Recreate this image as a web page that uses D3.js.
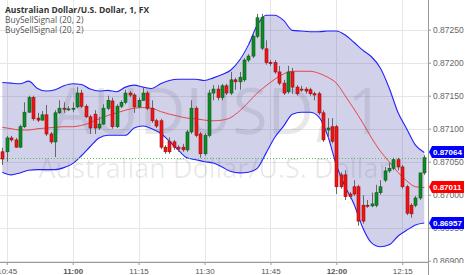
<!DOCTYPE html>
<html>
<head>
<meta charset="utf-8">
<script src="https://cdn.jsdelivr.net/npm/d3@7"></script>
<style>
  body { margin: 0; background: #fff; }
  svg { display: block; }
</style>
</head>
<body>
<svg id="chart" width="466" height="275"></svg>
<script>
// DATA: AUDUSD 1 minute bars, first bar at 10:44
const startTime = new Date(2015, 0, 1, 10, 44);

const opens = [
  0.87065, 0.87065, 0.87086, 0.87083, 0.87072, 0.87103, 0.87125, 0.87147, 0.87116, 0.87113,
  0.87121, 0.87092, 0.87080, 0.87124, 0.87131, 0.87130, 0.87130, 0.87133, 0.87154, 0.87134,
  0.87118, 0.87122, 0.87101, 0.87107, 0.87131, 0.87142, 0.87103, 0.87134, 0.87140, 0.87154,
  0.87151, 0.87133, 0.87143, 0.87154, 0.87131, 0.87112, 0.87112, 0.87072, 0.87081, 0.87080,
  0.87072, 0.87072, 0.87068, 0.87095, 0.87131, 0.87092, 0.87062, 0.87090, 0.87154, 0.87160,
  0.87147, 0.87165, 0.87154, 0.87174, 0.87171, 0.87174, 0.87204, 0.87210, 0.87240, 0.87222,
  0.87221, 0.87200, 0.87200, 0.87186, 0.87169, 0.87156, 0.87186, 0.87163, 0.87160, 0.87160,
  0.87159, 0.87153, 0.87153, 0.87124, 0.87098, 0.87103, 0.87103, 0.87030, 0.87030, 0.87001,
  0.87012, 0.87012, 0.86984, 0.86984, 0.86983, 0.86984, 0.87003, 0.87022, 0.87036, 0.87040,
  0.87053, 0.87042, 0.87012, 0.86984, 0.86984, 0.86995, 0.87033
];
const highs = [
  0.87071, 0.87089, 0.87089, 0.87086, 0.87106, 0.87140, 0.87150, 0.87150, 0.87124, 0.87127,
  0.87136, 0.87095, 0.87128, 0.87143, 0.87140, 0.87134, 0.87140, 0.87163, 0.87159, 0.87137,
  0.87121, 0.87128, 0.87118, 0.87137, 0.87150, 0.87147, 0.87137, 0.87143, 0.87159, 0.87157,
  0.87154, 0.87147, 0.87163, 0.87157, 0.87143, 0.87115, 0.87115, 0.87075, 0.87087, 0.87083,
  0.87075, 0.87077, 0.87098, 0.87143, 0.87134, 0.87095, 0.87093, 0.87159, 0.87166, 0.87166,
  0.87168, 0.87168, 0.87186, 0.87177, 0.87186, 0.87207, 0.87213, 0.87245, 0.87274, 0.87274,
  0.87234, 0.87204, 0.87204, 0.87195, 0.87174, 0.87195, 0.87192, 0.87166, 0.87165, 0.87163,
  0.87162, 0.87156, 0.87156, 0.87128, 0.87116, 0.87116, 0.87106, 0.87034, 0.87037, 0.87004,
  0.87022, 0.87015, 0.86999, 0.86992, 0.87003, 0.87015, 0.87022, 0.87042, 0.87048, 0.87056,
  0.87056, 0.87045, 0.87015, 0.86987, 0.86998, 0.87033, 0.87060
];
const lows = [
  0.87045, 0.87050, 0.87080, 0.87071, 0.87071, 0.87101, 0.87124, 0.87112, 0.87110, 0.87112,
  0.87089, 0.87077, 0.87057, 0.87122, 0.87124, 0.87127, 0.87125, 0.87131, 0.87131, 0.87116,
  0.87092, 0.87092, 0.87098, 0.87106, 0.87128, 0.87100, 0.87101, 0.87131, 0.87137, 0.87148,
  0.87124, 0.87131, 0.87142, 0.87128, 0.87109, 0.87101, 0.87069, 0.87062, 0.87062, 0.87068,
  0.87065, 0.87065, 0.87065, 0.87092, 0.87087, 0.87056, 0.87059, 0.87087, 0.87143, 0.87143,
  0.87143, 0.87151, 0.87151, 0.87159, 0.87159, 0.87171, 0.87201, 0.87207, 0.87237, 0.87219,
  0.87197, 0.87195, 0.87183, 0.87166, 0.87151, 0.87153, 0.87153, 0.87150, 0.87156, 0.87153,
  0.87150, 0.87143, 0.87121, 0.87080, 0.87086, 0.87078, 0.87001, 0.87009, 0.86992, 0.86994,
  0.86998, 0.86953, 0.86956, 0.86980, 0.86981, 0.86981, 0.87000, 0.87019, 0.87033, 0.87037,
  0.87037, 0.87009, 0.86969, 0.86965, 0.86981, 0.86992, 0.87030
];
const closes = [
  0.87054, 0.87086, 0.87083, 0.87072, 0.87103, 0.87125, 0.87147, 0.87115, 0.87113, 0.87121,
  0.87092, 0.87080, 0.87124, 0.87131, 0.87130, 0.87130, 0.87131, 0.87154, 0.87134, 0.87118,
  0.87101, 0.87101, 0.87107, 0.87131, 0.87143, 0.87103, 0.87134, 0.87140, 0.87154, 0.87151,
  0.87133, 0.87143, 0.87154, 0.87131, 0.87112, 0.87104, 0.87072, 0.87065, 0.87065, 0.87072,
  0.87069, 0.87068, 0.87095, 0.87131, 0.87090, 0.87062, 0.87090, 0.87154, 0.87160, 0.87147,
  0.87165, 0.87154, 0.87174, 0.87171, 0.87178, 0.87204, 0.87210, 0.87240, 0.87268, 0.87269,
  0.87200, 0.87199, 0.87186, 0.87169, 0.87154, 0.87186, 0.87163, 0.87153, 0.87159, 0.87157,
  0.87153, 0.87151, 0.87124, 0.87083, 0.87101, 0.87081, 0.87012, 0.87012, 0.86997, 0.86997,
  0.87001, 0.86960, 0.86960, 0.86983, 0.86986, 0.87003, 0.87012, 0.87036, 0.87040, 0.87053,
  0.87042, 0.87012, 0.86972, 0.86971, 0.86995, 0.87033, 0.87056
];

// bollinger band (20, 2) read every 2 bars
const bandStep = 2;
const upperBand = [
  0.87170, 0.87169, 0.87168, 0.87172, 0.87161, 0.87157, 0.87159, 0.87165, 0.87168, 0.87167,
  0.87160, 0.87157, 0.87158, 0.87156, 0.87163, 0.87166, 0.87163, 0.87161, 0.87168, 0.87173,
  0.87175, 0.87175, 0.87175, 0.87173, 0.87177, 0.87182, 0.87189, 0.87204, 0.87227, 0.87257,
  0.87272, 0.87272, 0.87264, 0.87249, 0.87248, 0.87247, 0.87247, 0.87248, 0.87248, 0.87242,
  0.87231, 0.87219, 0.87209, 0.87192, 0.87162, 0.87125, 0.87100, 0.87075, 0.87064
];
const middleBand = [
  0.87102, 0.87100, 0.87098, 0.87098, 0.87100, 0.87101, 0.87102, 0.87103, 0.87103, 0.87105,
  0.87109, 0.87115, 0.87120, 0.87124, 0.87128, 0.87131, 0.87132, 0.87131, 0.87126, 0.87122,
  0.87119, 0.87116, 0.87115, 0.87113, 0.87112, 0.87113, 0.87117, 0.87127, 0.87140, 0.87154,
  0.87165, 0.87175, 0.87183, 0.87187, 0.87187, 0.87187, 0.87184, 0.87178, 0.87169, 0.87150,
  0.87130, 0.87109, 0.87086, 0.87066, 0.87050, 0.87034, 0.87021, 0.87012, 0.87011
];
const lowerBand = [
  0.87034, 0.87030, 0.87033, 0.87037, 0.87038, 0.87038, 0.87038, 0.87041, 0.87047, 0.87059,
  0.87073, 0.87086, 0.87090, 0.87090, 0.87090, 0.87101, 0.87104, 0.87100, 0.87093, 0.87081,
  0.87068, 0.87056, 0.87053, 0.87050, 0.87048, 0.87042, 0.87035, 0.87033, 0.87034, 0.87040,
  0.87063, 0.87087, 0.87104, 0.87122, 0.87125, 0.87125, 0.87118, 0.87090, 0.87045, 0.87012,
  0.86986, 0.86950, 0.86927, 0.86921, 0.86924, 0.86937, 0.86946, 0.86954, 0.86957
];

const priceTicks = [0.869, 0.8695, 0.870, 0.8705, 0.871, 0.8715, 0.872, 0.8725];
const timeDomain = [new Date(2015, 0, 1, 10, 43, 28), new Date(2015, 0, 1, 12, 20, 51)];
const priceDomain = [0.86898, 0.87295];

const title = "Australian Dollar/U.S. Dollar, 1, FX";
const studies = ["BuySellSignal (20, 2)", "BuySellSignal (20, 2)"];
const watermark = ["AUDUSD, 1", "Australian Dollar/U.S. Dollar"];

const bars = opens.map((o, i) => ({
  time: d3.timeMinute.offset(startTime, i),
  open: o, high: highs[i], low: lows[i], close: closes[i]
}));
const bands = upperBand.map((u, i) => ({
  time: d3.timeMinute.offset(startTime, i * bandStep),
  upper: u, middle: middleBand[i], lower: lowerBand[i]
}));

// LAYOUT
const plotW = 428, plotH = 262;
const svg = d3.select("svg#chart");

// SCALES
const xScale = d3.scaleTime().domain(timeDomain).range([0, plotW]);
const yScale = d3.scaleLinear().domain(priceDomain).range([plotH, 0]);

svg.append("defs").append("clipPath").attr("id", "plot-clip")
  .append("rect").attr("width", plotW).attr("height", plotH);
svg.select("defs").append("clipPath").attr("id", "axis-clip")
  .append("rect").attr("x", plotW).attr("width", 466 - plotW).attr("height", plotH + 1);

const plot = svg.append("g").attr("clip-path", "url(#plot-clip)");

// GRID
const timeTicks = xScale.ticks(d3.timeMinute.every(15));
plot.append("g").selectAll("line").data(timeTicks).join("line")
  .attr("x1", d => Math.round(xScale(d)) + 0.5).attr("x2", d => Math.round(xScale(d)) + 0.5)
  .attr("y1", 0).attr("y2", plotH)
  .attr("stroke", "#e6e6e6");
plot.append("g").selectAll("line").data(priceTicks).join("line")
  .attr("x1", 0).attr("x2", plotW)
  .attr("y1", d => Math.round(yScale(d)) + 0.5).attr("y2", d => Math.round(yScale(d)) + 0.5)
  .attr("stroke", "#e6e6e6");

// WATERMARK
plot.append("text")
  .attr("x", plotW / 2 + 4).attr("y", 134)
  .attr("text-anchor", "middle")
  .style("font-family", "'Open Sans', sans-serif").style("font-size", "64px")
  .attr("fill", "#000").attr("fill-opacity", 0.09)
  .text(watermark[0]);
plot.append("text")
  .attr("x", plotW / 2).attr("y", 178)
  .attr("text-anchor", "middle")
  .style("font-family", "'Open Sans', sans-serif").style("font-size", "27px")
  .attr("fill", "#000").attr("fill-opacity", 0.09)
  .text(watermark[1]);

// BOLLINGER BAND
const area = d3.area()
  .x(d => xScale(d.time))
  .y0(d => yScale(d.lower))
  .y1(d => yScale(d.upper))
  .curve(d3.curveMonotoneX);
const bandLine = key => d3.line()
  .x(d => xScale(d.time))
  .y(d => yScale(d[key]))
  .curve(d3.curveMonotoneX);

plot.append("path").datum(bands).attr("d", area)
  .attr("fill", "rgb(70,70,170)").attr("fill-opacity", 0.25);
plot.append("path").datum(bands).attr("d", bandLine("upper"))
  .attr("fill", "none").attr("stroke", "#2121ff").attr("stroke-width", 1.1);
plot.append("path").datum(bands).attr("d", bandLine("lower"))
  .attr("fill", "none").attr("stroke", "#2121ff").attr("stroke-width", 1.1);
plot.append("path").datum(bands).attr("d", bandLine("middle"))
  .attr("fill", "none").attr("stroke", "#e53935").attr("stroke-width", 0.9);

// LAST PRICE LINE
const last = bars[bars.length - 1];
plot.append("line")
  .attr("x1", 0).attr("x2", plotW)
  .attr("y1", Math.round(yScale(last.close)) + 0.5).attr("y2", Math.round(yScale(last.close)) + 0.5)
  .attr("stroke", "#5cb85c").attr("stroke-dasharray", "1,2");

// CANDLES
const up = "#0f8a26", upEdge = "#0a5a18", down = "#f21414", downEdge = "#9a0c0c";
const candle = plot.append("g").selectAll("g").data(bars).join("g");
candle.append("line")
  .attr("x1", d => Math.round(xScale(d.time)) + 0.5).attr("x2", d => Math.round(xScale(d.time)) + 0.5)
  .attr("y1", d => yScale(d.high)).attr("y2", d => yScale(d.low))
  .attr("stroke", "#666");
candle.append("rect")
  .attr("x", d => Math.round(xScale(d.time)) - 1)
  .attr("width", 3)
  .attr("y", d => yScale(Math.max(d.open, d.close)))
  .attr("height", d => Math.max(1, yScale(Math.min(d.open, d.close)) - yScale(Math.max(d.open, d.close))))
  .attr("fill", d => d.close >= d.open ? up : down)
  .attr("stroke", d => d.close >= d.open ? upEdge : downEdge)
  .attr("stroke-width", 0.6);

// AXES
const xAxis = g => g.attr("transform", `translate(0,${plotH})`)
  .call(d3.axisBottom(xScale)
    .tickValues(timeTicks)
    .tickFormat(d3.timeFormat("%H:%M"))
    .tickSize(3).tickSizeOuter(0).tickPadding(3));
const yAxis = g => g.attr("transform", `translate(${plotW},0)`)
  .call(d3.axisRight(yScale)
    .tickValues(priceTicks)
    .tickFormat(d3.format(".5f"))
    .tickSize(3).tickSizeOuter(0).tickPadding(2));

const gx = svg.append("g").call(xAxis);
gx.select(".domain").attr("stroke", "#999").attr("d", `M0,0.5H${plotW}`);
gx.selectAll(".tick line").attr("stroke", "#999");
gx.selectAll(".tick text")
  .attr("fill", "#555")
  .style("font-family", "'Liberation Sans', Arial, sans-serif").style("font-size", "8px")
  .style("font-weight", d => d.getMinutes() === 0 ? "bold" : "normal");

const gy = svg.append("g").attr("clip-path", "url(#axis-clip)").append("g").call(yAxis);
gy.select(".domain").attr("stroke", "#999");
gy.selectAll(".tick line").attr("stroke", "#999");
gy.selectAll(".tick text")
  .attr("fill", "#666")
  .style("font-family", "'Liberation Sans', Arial, sans-serif").style("font-size", "8.5px");

svg.append("line")
  .attr("x1", plotW + 0.5).attr("x2", plotW + 0.5).attr("y1", 0).attr("y2", 275)
  .attr("stroke", "#999");

// PRICE LABELS on the right scale
const lastBand = bands[bands.length - 1];
const labels = [
  { value: lastBand.upper, color: "#0000ff" },
  { value: lastBand.middle, color: "#ff0000" },
  { value: lastBand.lower, color: "#0000ff" }
];
const label = svg.append("g").selectAll("g").data(labels).join("g")
  .attr("transform", d => `translate(${plotW + 1},${Math.round(yScale(d.value))})`);
label.append("path")
  .attr("d", "M0,0L3,-6H35V6H3Z")
  .attr("fill", d => d.color);
label.append("text")
  .attr("x", 4).attr("y", 3)
  .attr("fill", "#fff")
  .style("font-family", "'Liberation Sans', Arial, sans-serif").style("font-size", "8px")
  .style("font-weight", "bold")
  .text(d => d3.format(".5f")(d.value));

// LEGEND
const legend = svg.append("g").style("font-family", "'Open Sans', sans-serif");
legend.append("text").attr("x", 5).attr("y", 13)
  .style("font-size", "8.5px").style("font-weight", "bold").attr("fill", "#333")
  .text(title);
legend.selectAll("text.study").data(studies).join("text").attr("class", "study")
  .attr("x", 5).attr("y", (d, i) => 23 + i * 10)
  .style("font-size", "8.5px").attr("fill", "#555")
  .text(d => d);
</script>
</body>
</html>
